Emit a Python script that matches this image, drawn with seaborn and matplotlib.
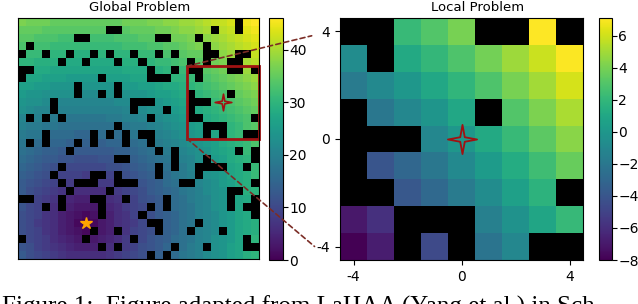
import numpy as np
import seaborn as sns
import matplotlib.pyplot as plt
from matplotlib.patches import Rectangle, ConnectionPatch
from matplotlib.path import Path

# global cost field (30 x 30)
global_values = [
    [37, 36, 36, 36, 35, 35, 35, 35, 35, 35, 35, 35, 35, 36, 36, 36, 37, 37, 38, 38, 39, 39, 40, 41, 42, 42, 43, 44, 45, 46],
    [35, 35, 35, 34, 34, 34, 34, 34, 34, 34, 34, 34, 34, 34, 35, 35, 35, 36, 36, 37, 38, 38, 39, 40, 40, 41, 42, 43, 44, 45],
    [34, 34, 33, 33, 33, 32, 32, 32, 32, 32, 32, 32, 33, 33, 33, 34, 34, 35, 35, 36, 36, 37, 38, 38, 39, 40, 41, 42, 43, 44],
    [33, 32, 32, 32, 31, 31, 31, 31, 31, 31, 31, 31, 31, 32, 32, 32, 33, 33, 34, 34, 35, 36, 37, 37, 38, 39, 40, 41, 42, 43],
    [31, 31, 31, 30, 30, 30, 30, 29, 29, 29, 30, 30, 30, 30, 31, 31, 31, 32, 33, 33, 34, 35, 35, 36, 37, 38, 39, 40, 41, 42],
    [30, 30, 29, 29, 29, 28, 28, 28, 28, 28, 28, 28, 29, 29, 29, 30, 30, 31, 31, 32, 33, 33, 34, 35, 36, 37, 38, 39, 40, 41],
    [29, 28, 28, 28, 27, 27, 27, 27, 27, 27, 27, 27, 27, 28, 28, 28, 29, 29, 30, 31, 31, 32, 33, 34, 35, 36, 37, 38, 39, 40],
    [28, 27, 27, 26, 26, 26, 25, 25, 25, 25, 25, 26, 26, 26, 27, 27, 28, 28, 29, 30, 30, 31, 32, 33, 34, 35, 36, 37, 38, 39],
    [26, 26, 25, 25, 24, 24, 24, 24, 24, 24, 24, 24, 24, 25, 25, 26, 26, 27, 28, 28, 29, 30, 31, 32, 33, 34, 35, 36, 37, 38],
    [25, 24, 24, 23, 23, 23, 23, 22, 22, 22, 23, 23, 23, 23, 24, 24, 25, 26, 26, 27, 28, 29, 30, 31, 32, 33, 34, 35, 36, 37],
    [24, 23, 23, 22, 22, 21, 21, 21, 21, 21, 21, 21, 22, 22, 23, 23, 24, 24, 25, 26, 27, 28, 29, 30, 31, 32, 33, 34, 35, 36],
    [23, 22, 21, 21, 20, 20, 20, 20, 20, 20, 20, 20, 20, 21, 21, 22, 23, 23, 24, 25, 26, 27, 28, 29, 30, 31, 32, 33, 34, 35],
    [21, 21, 20, 20, 19, 19, 18, 18, 18, 18, 18, 19, 19, 20, 20, 21, 21, 22, 23, 24, 25, 26, 27, 28, 29, 30, 31, 32, 33, 35],
    [20, 19, 19, 18, 18, 17, 17, 17, 17, 17, 17, 17, 18, 18, 19, 19, 20, 21, 22, 23, 24, 25, 26, 27, 28, 29, 30, 31, 33, 34],
    [19, 18, 18, 17, 16, 16, 16, 15, 15, 15, 16, 16, 16, 17, 18, 18, 19, 20, 21, 22, 23, 24, 25, 26, 27, 28, 30, 31, 32, 33],
    [18, 17, 16, 16, 15, 15, 14, 14, 14, 14, 14, 15, 15, 16, 16, 17, 18, 19, 20, 21, 22, 23, 24, 25, 26, 28, 29, 30, 31, 33],
    [17, 16, 15, 14, 14, 13, 13, 13, 13, 13, 13, 13, 14, 14, 15, 16, 17, 18, 19, 20, 21, 22, 23, 24, 26, 27, 28, 29, 31, 32],
    [16, 15, 14, 13, 13, 12, 12, 11, 11, 11, 12, 12, 13, 13, 14, 15, 16, 17, 18, 19, 20, 21, 23, 24, 25, 26, 28, 29, 30, 31],
    [15, 14, 13, 12, 11, 11, 10, 10, 10, 10, 10, 11, 11, 12, 13, 14, 15, 16, 17, 18, 19, 21, 22, 23, 24, 26, 27, 28, 30, 31],
    [14, 13, 12, 11, 10, 9, 9, 9, 8, 9, 9, 9, 10, 11, 12, 13, 14, 15, 16, 18, 19, 20, 21, 23, 24, 25, 27, 28, 29, 31],
    [13, 12, 11, 10, 9, 8, 8, 7, 7, 7, 8, 8, 9, 10, 11, 12, 13, 14, 16, 17, 18, 20, 21, 22, 23, 25, 26, 28, 29, 30],
    [13, 11, 10, 9, 8, 7, 6, 6, 6, 6, 6, 7, 8, 9, 10, 11, 13, 14, 15, 16, 18, 19, 20, 22, 23, 24, 26, 27, 29, 30],
    [12, 11, 9, 8, 7, 6, 5, 4, 4, 4, 5, 6, 7, 8, 9, 11, 12, 13, 15, 16, 17, 19, 20, 21, 23, 24, 26, 27, 28, 30],
    [12, 10, 9, 8, 6, 5, 4, 3, 3, 3, 4, 5, 6, 8, 9, 10, 12, 13, 14, 16, 17, 18, 20, 21, 23, 24, 25, 27, 28, 30],
    [11, 10, 9, 7, 6, 4, 3, 2, 1, 2, 3, 4, 6, 7, 9, 10, 11, 13, 14, 15, 17, 18, 20, 21, 22, 24, 25, 27, 28, 29],
    [11, 10, 8, 7, 6, 4, 3, 1, 0, 1, 3, 4, 6, 7, 8, 10, 11, 13, 14, 15, 17, 18, 20, 21, 22, 24, 25, 27, 28, 29],
    [11, 10, 9, 7, 6, 4, 3, 2, 1, 2, 3, 4, 6, 7, 9, 10, 11, 13, 14, 15, 17, 18, 20, 21, 22, 24, 25, 27, 28, 29],
    [12, 10, 9, 8, 6, 5, 4, 3, 3, 3, 4, 5, 6, 8, 9, 10, 12, 13, 14, 16, 17, 18, 20, 21, 23, 24, 25, 27, 28, 30],
    [12, 11, 9, 8, 7, 6, 5, 4, 4, 4, 5, 6, 7, 8, 9, 11, 12, 13, 15, 16, 17, 19, 20, 21, 23, 24, 26, 27, 28, 30],
    [13, 11, 10, 9, 8, 7, 6, 6, 6, 6, 6, 7, 8, 9, 10, 11, 13, 14, 15, 16, 18, 19, 20, 22, 23, 24, 26, 27, 29, 30],
]

# obstacle columns for each row of the global grid
obstacle_cols = [
    [27],
    [11, 12, 24, 27],
    [7, 8, 17, 18, 22],
    [1, 23],
    [0, 3, 6, 9, 11, 14, 17, 19, 23, 24, 27, 28],
    [5, 8, 12, 15, 21, 23, 26, 27],
    [0, 1, 16, 19, 21, 22, 26, 27, 29],
    [0, 10, 16, 17, 18, 22],
    [7, 12],
    [7, 10, 12, 21, 26],
    [4, 14, 15, 16, 21, 22, 23],
    [4, 14, 18, 21],
    [1, 3, 5, 16, 21, 22, 29],
    [12, 23, 24, 25],
    [3, 9, 11, 13, 15, 16, 23, 25, 28, 29],
    [1, 3, 7, 9, 13, 16],
    [6, 17, 19, 27, 29],
    [12, 13, 19, 23, 29],
    [5, 17, 19, 22, 23, 24, 25, 28],
    [4, 9, 10, 12, 17, 22],
    [5, 7, 8, 9, 12, 13, 14, 20, 21, 29],
    [6, 11, 26, 27],
    [0, 1, 5, 9, 10, 13, 18, 26, 29],
    [3, 5, 10, 16, 18, 26, 28, 29],
    [10, 15, 29],
    [16, 17, 22],
    [9, 12, 17, 21, 25],
    [0, 8, 14, 28],
    [10, 12, 19, 23, 28, 29],
    [16, 18],
]

# local cost field (9 x 9) relative to the agent position
local_values = [
    [0.5, 1.3, 2.2, 3.0, 4.0, 4.9, 5.9, 7.1, 7.9],
    [-0.7, 0.2, 1.1, 2.0, 2.9, 3.9, 4.9, 5.9, 7.0],
    [-1.8, -0.9, 0.0, 1.0, 1.9, 2.9, 4.0, 5.0, 6.1],
    [-2.9, -2.0, -1.0, -0.1, 1.0, 2.0, 3.0, 4.1, 5.2],
    [-3.9, -3.0, -2.0, -1.0, 0.0, 1.1, 2.2, 3.3, 4.4],
    [-5.0, -4.0, -3.0, -2.0, -0.9, 0.2, 1.3, 2.4, 3.6],
    [-6.0, -5.0, -3.9, -2.9, -1.8, -0.7, 0.5, 1.7, 2.8],
    [-7.0, -5.9, -4.8, -3.7, -2.6, -1.5, -0.3, 0.9, 2.1],
    [-8.0, -6.8, -5.7, -4.6, -3.4, -2.2, -1.0, 0.2, 1.5],
]

local_ticks = ["-4", "0", "4"]
local_row0, local_col0, local_size = 6, 21, 9
agent_cell = (10, 25)
goal_cell = (25, 8)

grid = np.array(global_values, dtype=float)
blocked = np.zeros_like(grid, dtype=bool)
for r, cols in enumerate(obstacle_cols):
    blocked[r, cols] = True

local = np.array(local_values)
local_blocked = blocked[local_row0:local_row0 + local_size, local_col0:local_col0 + local_size]

star4 = Path.unit_regular_star(4, 0.22)
red = "#a01212"

fig = plt.figure(figsize=(6.38, 3.04), dpi=100)
ax_g = fig.add_axes([18 / 638, 45 / 304, 241 / 638, 241 / 304])
cax_g = fig.add_axes([269 / 638, 44 / 304, 14 / 638, 242 / 304])
ax_l = fig.add_axes([340 / 638, 44 / 304, 243 / 638, 242 / 304])
cax_l = fig.add_axes([599 / 638, 44 / 304, 13 / 638, 242 / 304])

sns.heatmap(grid, mask=blocked, cmap="viridis", ax=ax_g, cbar_ax=cax_g,
            xticklabels=False, yticklabels=False)
ax_g.set_facecolor("black")

sns.heatmap(local, mask=local_blocked, cmap="viridis", ax=ax_l, cbar_ax=cax_l,
            xticklabels=False, yticklabels=False)
ax_l.set_facecolor("black")
ax_l.set_xticks([0.5, 4.5, 8.5])
ax_l.set_xticklabels(local_ticks)
ax_l.set_yticks([0.5, 4.5, 8.5])
ax_l.set_yticklabels(local_ticks[::-1], rotation=0)
ax_l.tick_params(labelsize=10, length=3.5)

for ax in (ax_g, ax_l):
    for s in ax.spines.values():
        s.set_visible(True)
        s.set_linewidth(0.8)

cax_g.set_yticks([0, 10, 20, 30, 40])
cax_l.set_yticks([-8, -6, -4, -2, 0, 2, 4, 6])
for cax in (cax_g, cax_l):
    cax.tick_params(labelsize=10, length=3.5, pad=1)
for ax in (ax_g, ax_l):
    ax.collections[0].colorbar.outline.set_linewidth(0.8)

# local window box and markers on the global map
ax_g.add_patch(Rectangle((local_col0, local_row0), local_size, local_size,
                         fill=False, ec=red, lw=2.0, clip_on=False))
ax_g.plot(agent_cell[1] + 0.5, agent_cell[0] + 0.5, marker=star4, ms=12,
          mfc="none", mec=red, mew=1.2)
ax_g.plot(goal_cell[1] + 0.5, goal_cell[0] + 0.5, marker="*", ms=9, color="orange")
ax_l.plot(local_size / 2, local_size / 2, marker=star4, ms=21,
          mfc="none", mec=red, mew=1.3)

# dashed zoom lines
for ya, yb, shrink in ((local_row0, 0.955, 21), (local_row0 + local_size, -0.033, 24)):
    con = ConnectionPatch(xyA=(local_col0, ya), coordsA=ax_g.transData,
                          xyB=(0, yb), coordsB=ax_l.transAxes,
                          color="#7b2d26", lw=1.2, linestyle=(0, (3, 2)),
                          shrinkB=shrink)
    fig.add_artist(con)

fig.text(140 / 638, 0.975, "Global Problem", ha="center", va="center", fontsize=9.5)
fig.text(478 / 638, 0.975, "Local Problem", ha="center", va="center", fontsize=9.5)

# caption of the source figure, cut off by the lower edge
fig.text(0.003, -0.033, "Figure 1:  Figure adapted from LaHAA (Yang et al.) in Sch",
         family="Liberation Serif", fontsize=18, va="baseline")

fig.savefig("out.png", dpi=100)
